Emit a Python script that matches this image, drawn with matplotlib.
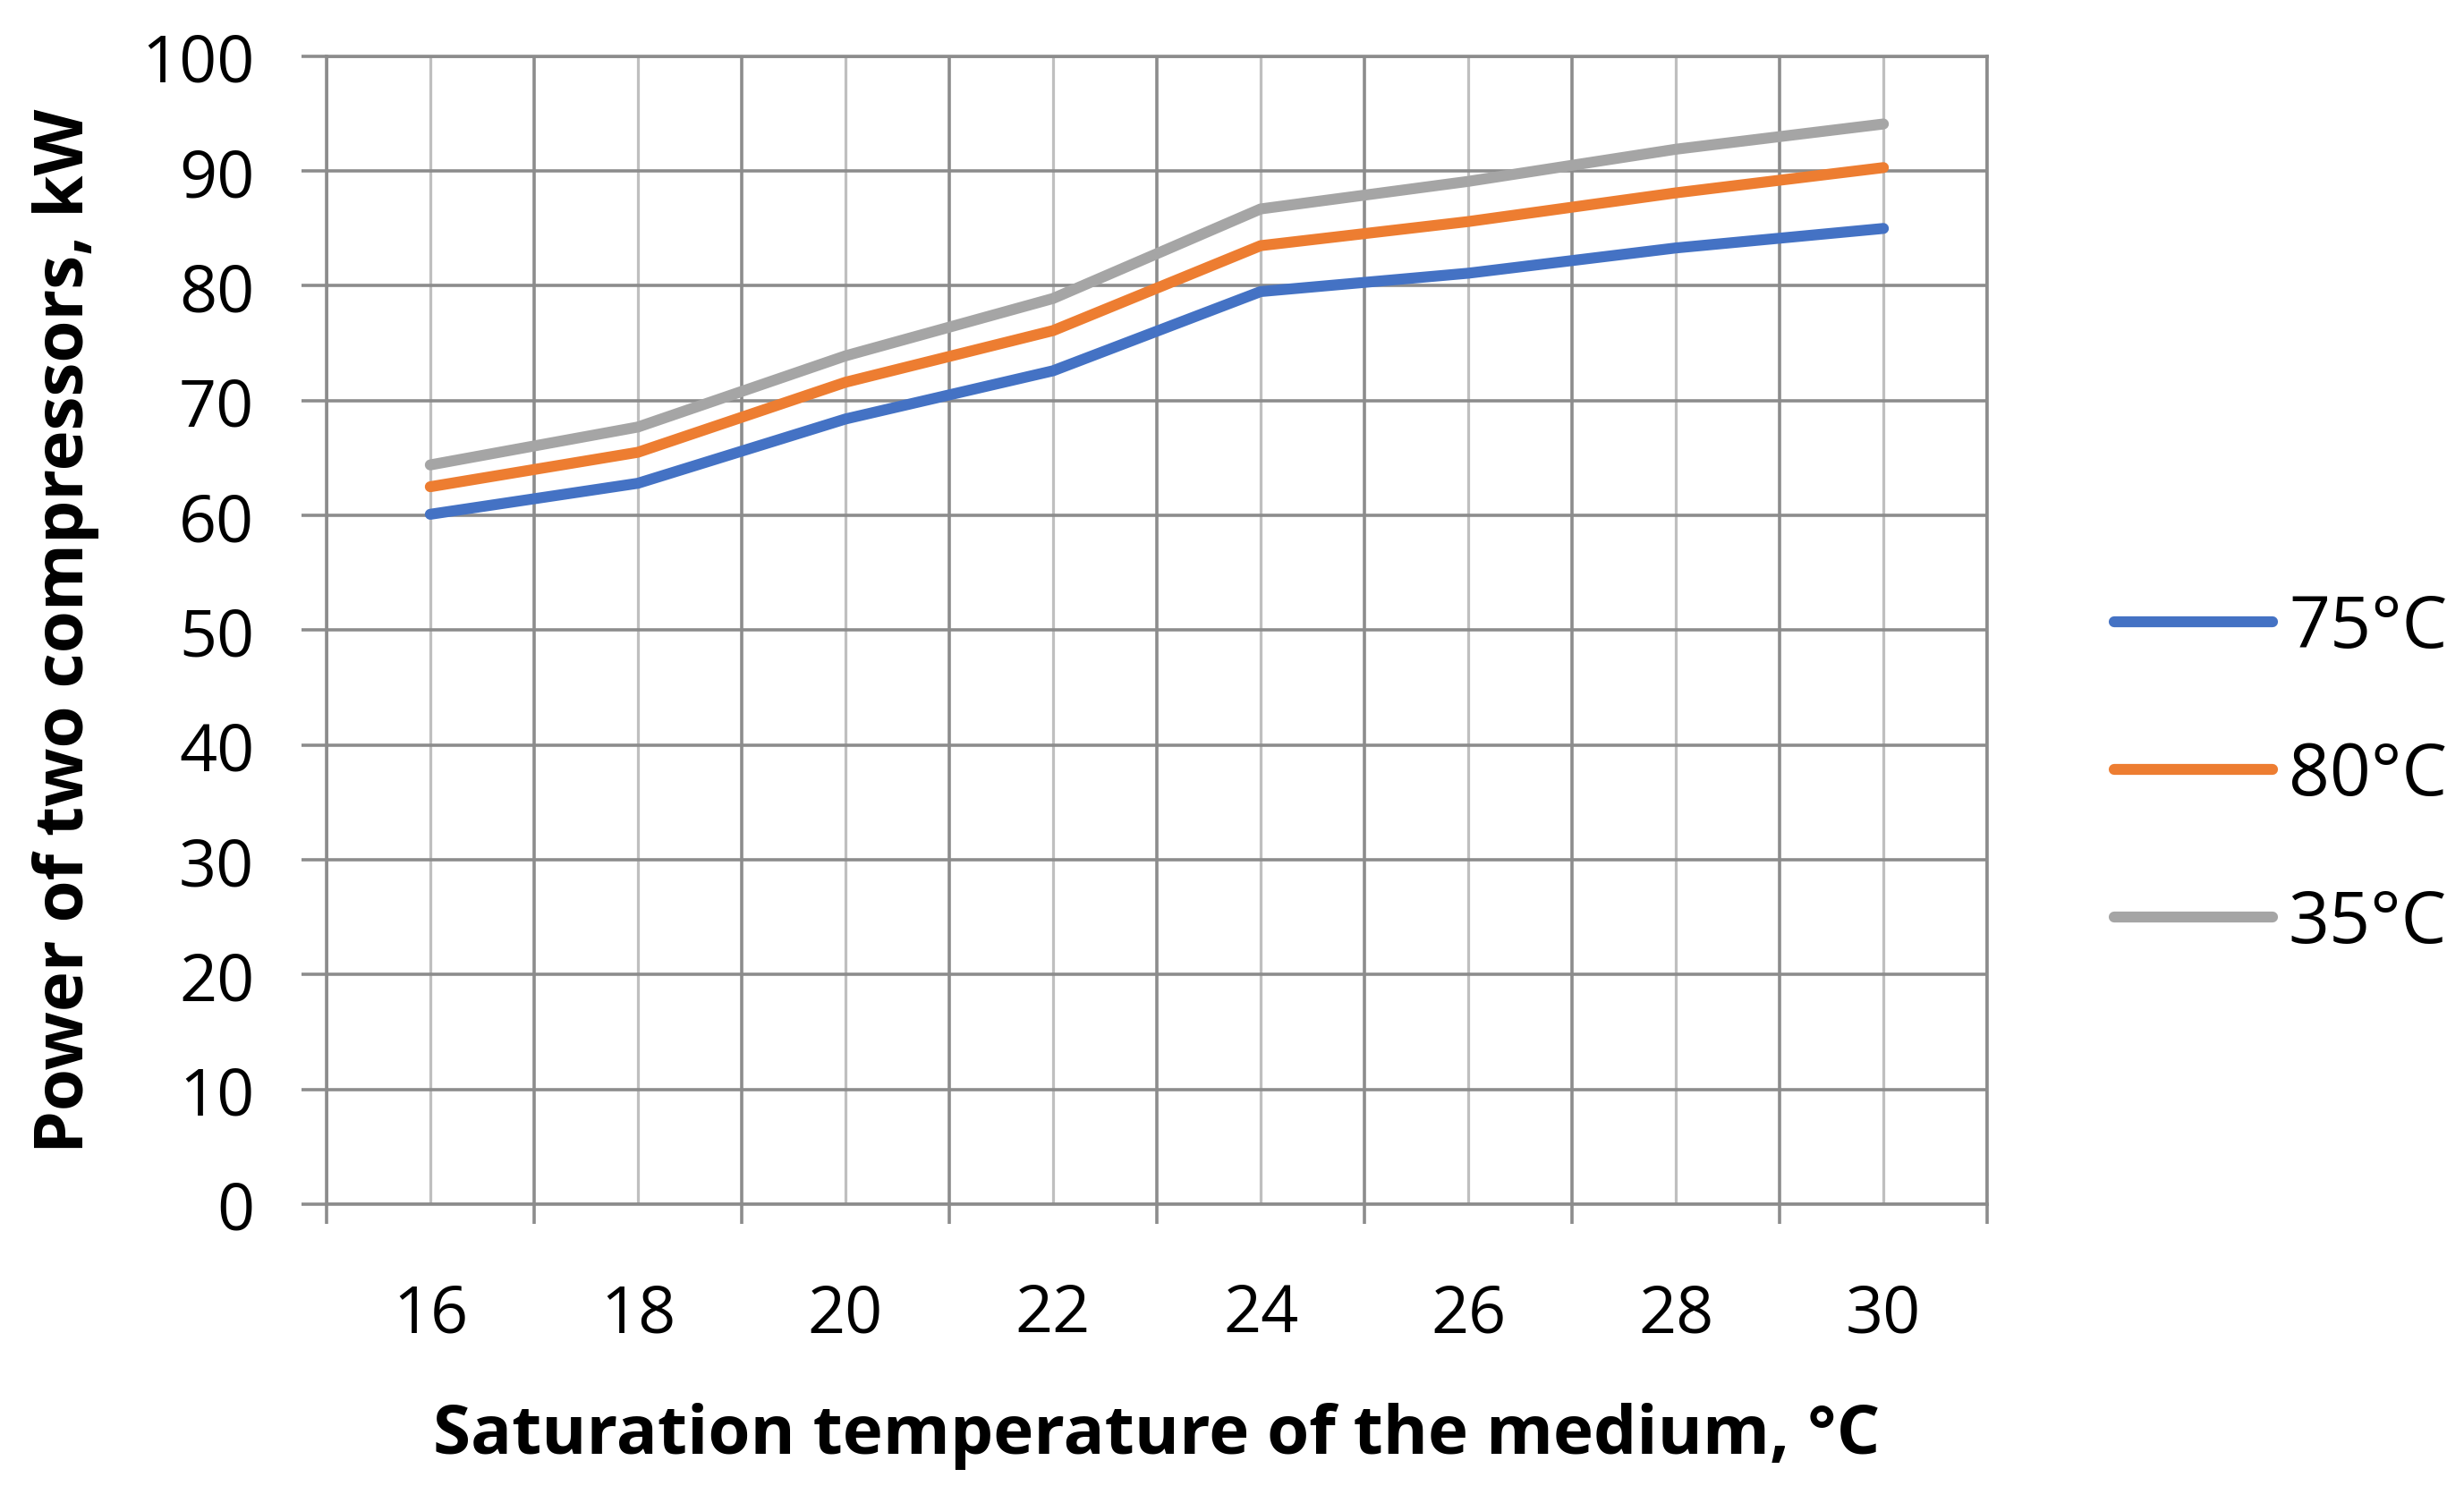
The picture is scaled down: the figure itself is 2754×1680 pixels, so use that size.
import matplotlib
matplotlib.use('Agg')
import matplotlib.pyplot as plt

# saturation temperature of the medium, °C
temps = [16, 18, 20, 22, 24, 26, 28, 30]

# power of two compressors, kW
power_75 = [60.1, 62.8, 68.4, 72.6, 79.5, 81.1, 83.3, 85.0]
power_80 = [62.5, 65.5, 71.6, 76.1, 83.5, 85.6, 88.1, 90.3]
power_35 = [64.4, 67.7, 73.9, 78.9, 86.7, 89.1, 91.9, 94.1]

series_labels = ['75°C', '80°C', '35°C']
series_colors = ['#4472C4', '#ED7D31', '#A5A5A5']

y_ticks = list(range(0, 101, 10))
x_major = list(range(15, 32, 2))

plt.rcParams['font.family'] = ['Open Sans', 'DejaVu Sans']

dark_grid = '#8C8C8C'
light_grid = '#BFBFBF'

fig = plt.figure(figsize=(27.54, 16.81), dpi=100)
ax = fig.add_axes([0.1325, 0.1987, 0.674, 0.7633])

for values, label, color in zip([power_75, power_80, power_35], series_labels, series_colors):
    ax.plot(temps, values, color=color, linewidth=8.8, label=label,
            solid_capstyle='round', solid_joinstyle='round', zorder=3)

ax.set_xlim(15, 31)
ax.set_ylim(0, 100)

ax.set_yticks(y_ticks)
ax.set_xticks(x_major)
ax.set_xticklabels([])
ax.set_xticks(temps, minor=True)
ax.set_xticklabels([str(t) for t in temps], minor=True)

ax.set_axisbelow(True)
ax.grid(which='major', axis='both', color=dark_grid, linewidth=2.6)
ax.grid(which='minor', axis='x', color=light_grid, linewidth=2.3)

ax.tick_params(axis='y', which='major', length=20, width=2.6, color=dark_grid,
               pad=38, labelsize=53)
ax.tick_params(axis='x', which='major', length=16, width=2.6, color=dark_grid)
ax.tick_params(axis='x', which='minor', length=0, pad=62, labelsize=53)

for side in ['left', 'bottom', 'top', 'right']:
    ax.spines[side].set_color(dark_grid)
    ax.spines[side].set_linewidth(2.6)

ax.set_xlabel('Saturation temperature of the medium, °C', fontsize=55,
              fontweight='bold')
ax.set_ylabel('Power of two compressors, kW', fontsize=55,
              fontweight='bold')
ax.yaxis.set_label_coords(-0.137, 0.5)
ax.xaxis.set_label_coords(0.5, -0.172)

fig.legend(loc='center left', bbox_to_anchor=(0.858, 0.4836), frameon=False,
           fontsize=58, handlelength=2.2, handletextpad=0.22, labelspacing=1.05,
           borderpad=0, borderaxespad=0)

fig.savefig('out.png', dpi=100)
